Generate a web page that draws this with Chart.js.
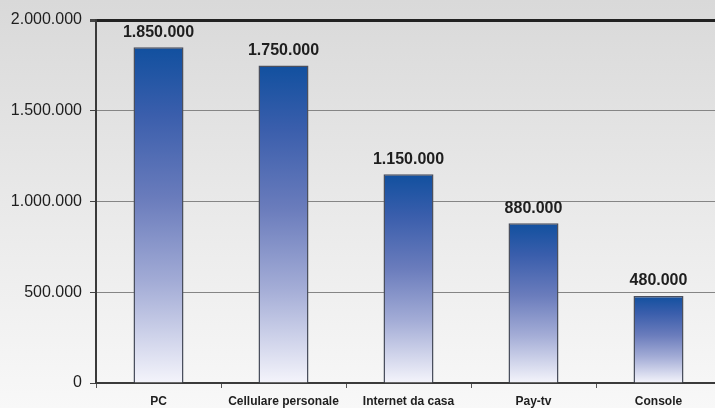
<!DOCTYPE html>
<html>
<head>
<meta charset="utf-8">
<script src="https://cdn.jsdelivr.net/npm/chart.js@4.4.1/dist/chart.umd.min.js"></script>
<style>
    html, body {
        margin: 0;
        padding: 0;
        width: 715px;
        height: 408px;
        overflow: hidden;
        background: linear-gradient(to bottom, #d9d9d9 0%, #e9e9e9 50%, #f8f8f8 100%);
    }
    #wrap {
        position: relative;
        width: 721px;
        height: 408px;
    }
</style>
</head>
<body>
<div id="wrap"><canvas id="barChart"></canvas></div>
<script>
const categories = ['PC', 'Cellulare personale', 'Internet da casa', 'Pay-tv', 'Console'];
const users = [1850000, 1750000, 1150000, 880000, 480000];
const yTicks = [0, 500000, 1000000, 1500000, 2000000];

// Italian style thousands separator: 1.850.000
function formatNumber(value) {
    return String(value).replace(/\B(?=(\d{3})+(?!\d))/g, '.');
}

// Each bar gets its own gradient, dark blue at the top fading to white at zero
function barGradient(context) {
    const chart = context.chart;
    const yScale = chart.scales.y;
    if (!yScale || !chart.chartArea) {
        return '#1a4f9f';
    }
    const top = yScale.getPixelForValue(context.raw);
    const bottom = yScale.getPixelForValue(0);
    const g = chart.ctx.createLinearGradient(0, top, 0, bottom);
    g.addColorStop(0, '#11509f');
    g.addColorStop(0.2, '#3a5eac');
    g.addColorStop(0.45, '#6a7cbc');
    g.addColorStop(0.7, '#a3acd6');
    g.addColorStop(1, '#f4f4fb');
    return g;
}

// Value labels above the bars
const valueLabels = {
    id: 'valueLabels',
    afterDatasetsDraw(chart) {
        const ctx = chart.ctx;
        const meta = chart.getDatasetMeta(0);
        ctx.save();
        ctx.font = 'bold 16px "Liberation Sans", Arial, sans-serif';
        ctx.fillStyle = '#1e1e1e';
        ctx.textAlign = 'center';
        ctx.textBaseline = 'bottom';
        meta.data.forEach((bar, i) => {
            ctx.fillText(formatNumber(users[i]), bar.x, bar.y - 7);
        });
        ctx.restore();
    }
};

const ctx = document.getElementById('barChart').getContext('2d');
new Chart(ctx, {
    type: 'bar',
    data: {
        labels: categories,
        datasets: [{
            data: users,
            backgroundColor: barGradient,
            borderColor: '#4a4f5e',
            borderWidth: 1.5,
            categoryPercentage: 1,
            barPercentage: 0.4
        }]
    },
    options: {
        responsive: true,
        maintainAspectRatio: false,
        animation: false,
        layout: {
            padding: { top: 20, right: 0, bottom: 0, left: 0 }
        },
        plugins: {
            legend: { display: false },
            tooltip: { enabled: false }
        },
        scales: {
            x: {
                afterFit(scale) { scale.height = 25; },
                border: { color: '#3a3a3a', width: 2 },
                grid: {
                    offset: true,
                    drawOnChartArea: false,
                    tickLength: 5,
                    tickColor: '#555'
                },
                ticks: {
                    padding: 6,
                    color: '#1e1e1e',
                    font: { family: '"Liberation Sans", Arial, sans-serif', size: 12, weight: 'bold' }
                }
            },
            y: {
                min: 0,
                max: 2000000,
                afterFit(scale) { scale.width = 96; },
                afterBuildTicks(scale) {
                    scale.ticks = yTicks.map(v => ({ value: v }));
                },
                border: { color: '#3a3a3a', width: 2 },
                grid: {
                    color: ctx => ctx.tick && ctx.tick.value === 2000000 ? '#222' : '#858585',
                    lineWidth: ctx => ctx.tick && ctx.tick.value === 2000000 ? 3 : 1,
                    tickLength: 6,
                    tickColor: '#444'
                },
                ticks: {
                    padding: 8,
                    color: '#1e1e1e',
                    font: { family: '"Liberation Sans", Arial, sans-serif', size: 16 },
                    callback: value => formatNumber(value)
                }
            }
        }
    },
    plugins: [valueLabels]
});
</script>
</body>
</html>
